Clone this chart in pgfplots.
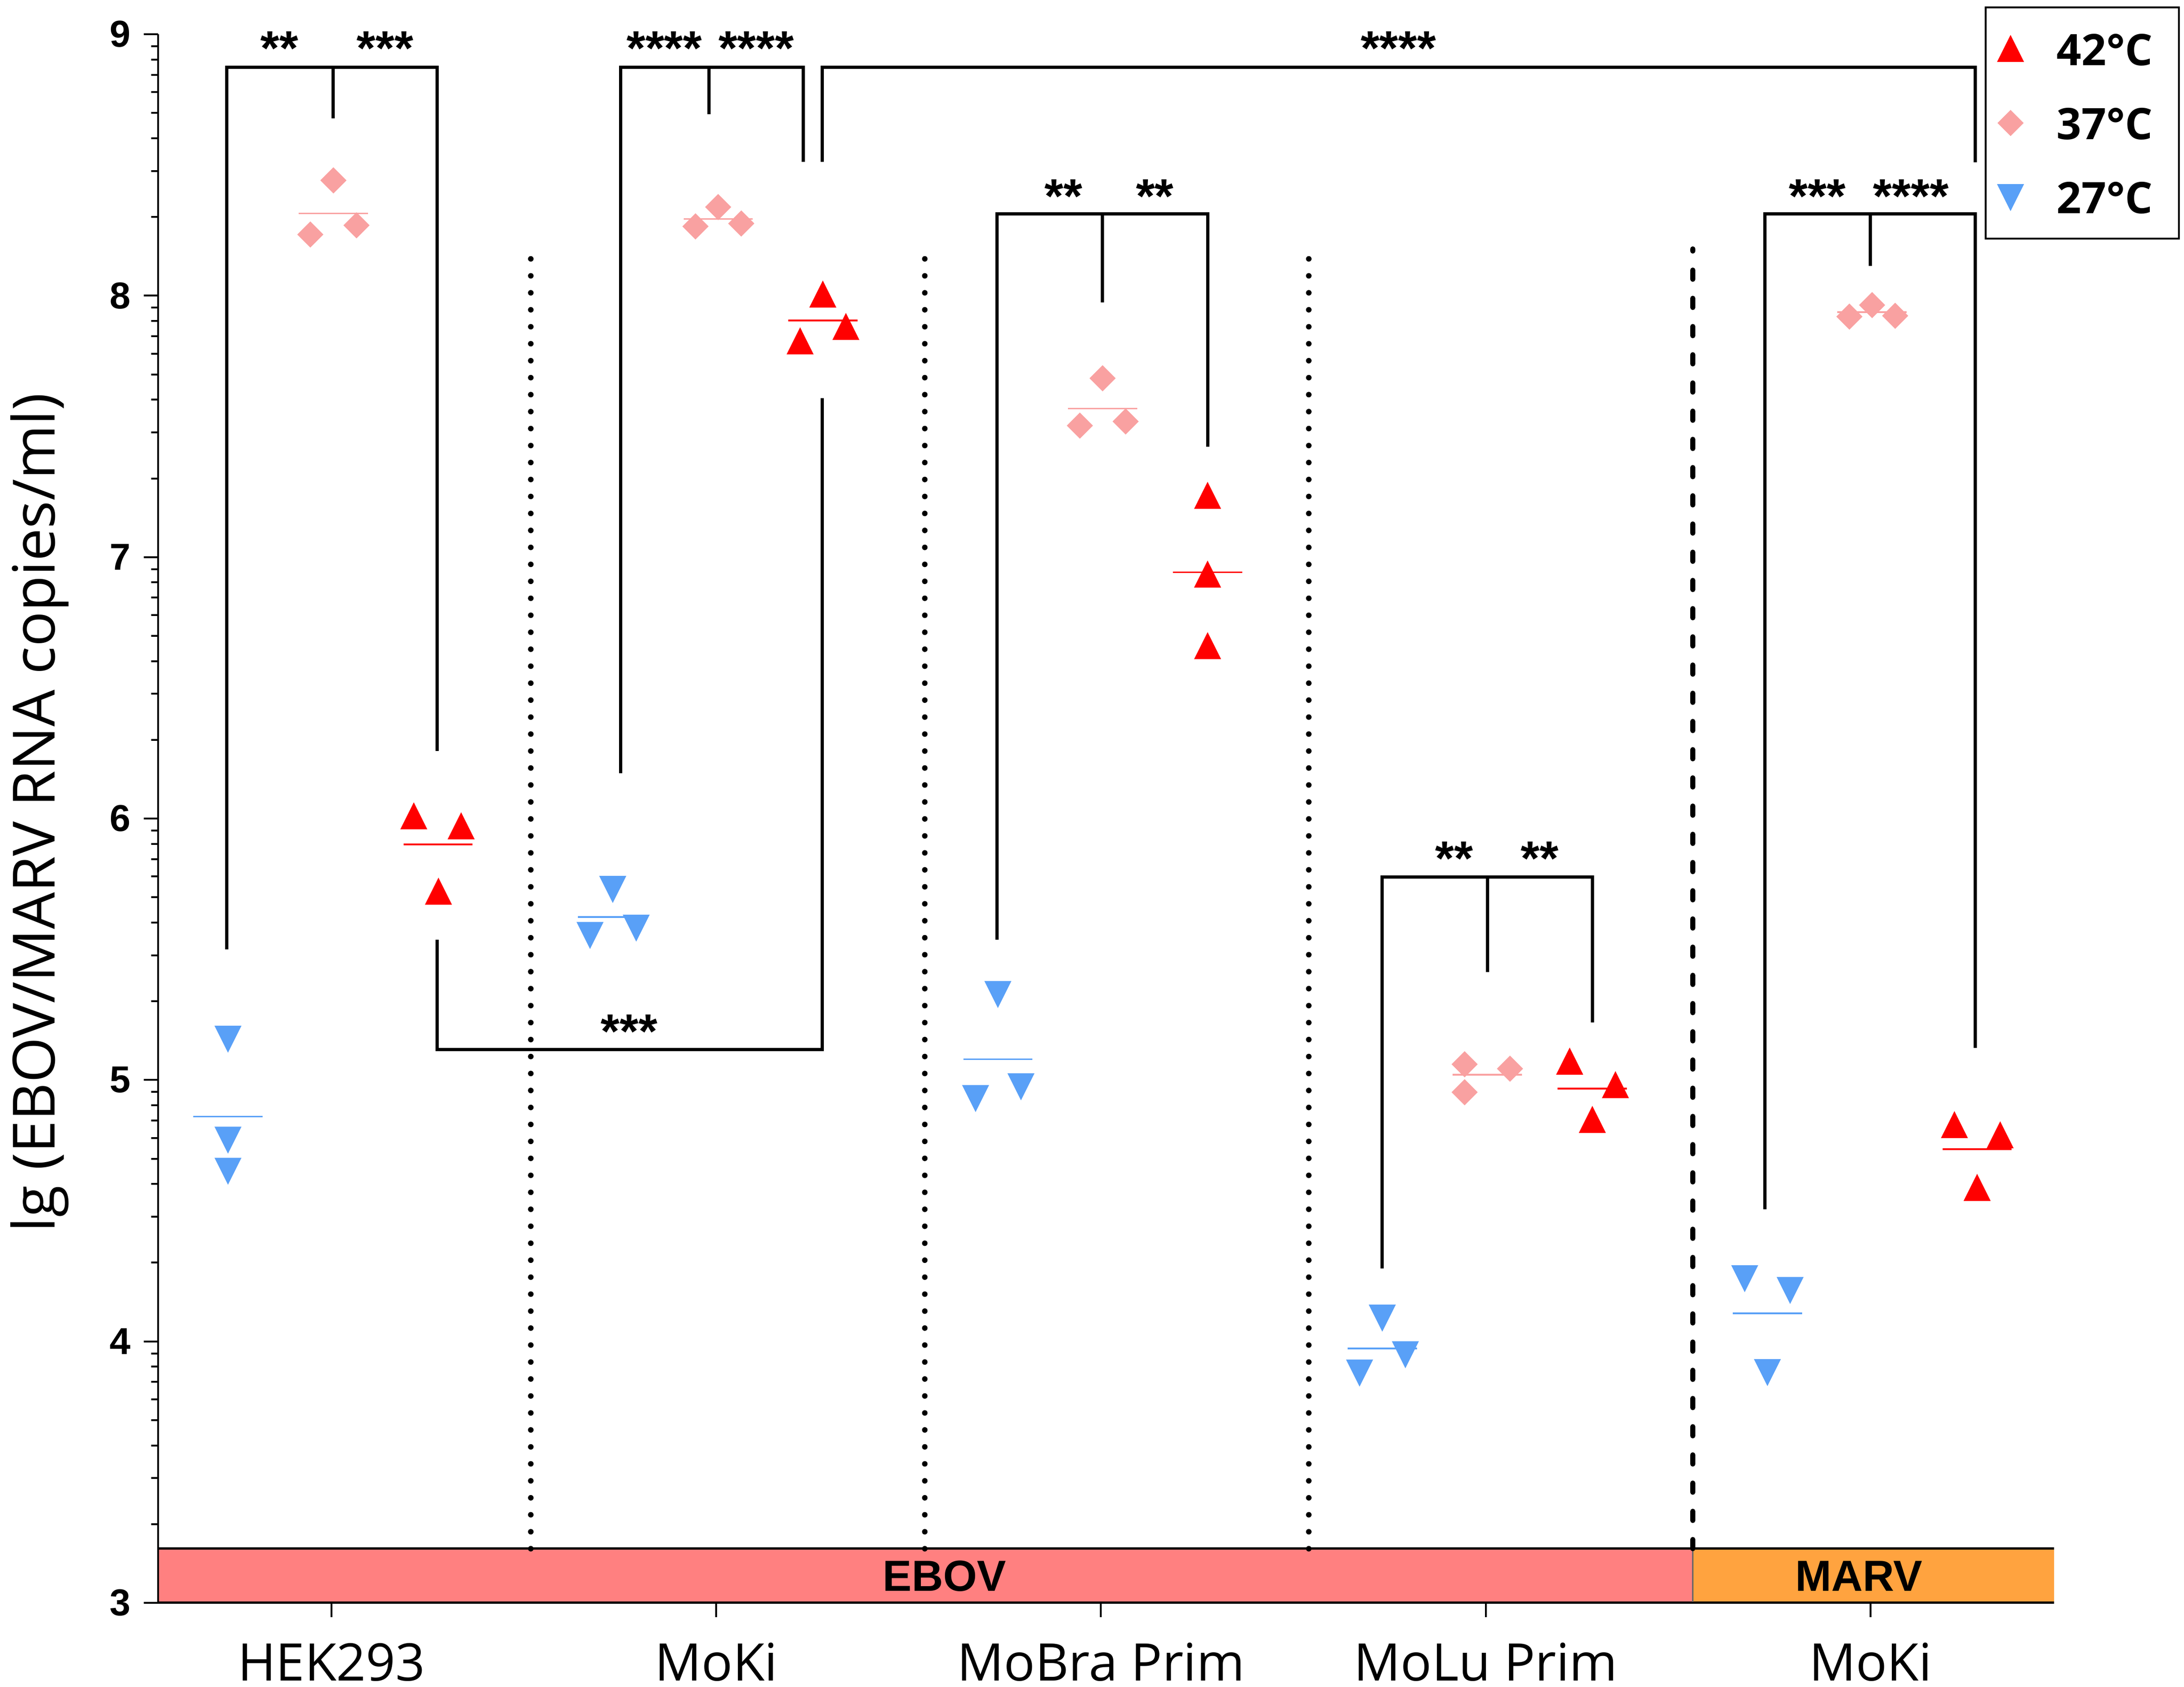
\documentclass[border=0pt]{standalone}
\usepackage{pgfplots}
\pgfplotsset{compat=1.18}
\usepackage{fontspec}
\setmainfont{Open Sans}
\newfontfamily\arialfam{Liberation Sans}
\definecolor{c42}{HTML}{FF0000}
\definecolor{c37}{HTML}{F9A1A1}
\definecolor{c27}{HTML}{59A0F7}
\definecolor{ebov}{HTML}{FF8080}
\definecolor{marv}{HTML}{FFA33F}
\newcommand\starfont{\arialfam\bfseries\fontsize{10.5}{12}\selectfont}
\newcommand\bandfont{\arialfam\bfseries\fontsize{9.4}{11}\selectfont}
\begin{document}
\begin{tikzpicture}
\begin{axis}[
  scale only axis, width=410.1pt, height=339.2pt,
  xmin=-0.4506, xmax=4.477, ymin=3, ymax=9,
  axis lines*=left,
  axis on top,
  axis line style={line width=0.4pt, black},
  clip=false,
  tick align=outside,
  major tick length=3.1pt, minor tick length=1.5pt,
  tick style={black, line width=0.4pt},
  xtick={0,1,2,3,4},
  xticklabels={HEK293, MoKi, MoBra Prim, MoLu Prim, MoKi},
  xticklabel style={font=\fontsize{11.2}{13}\selectfont, anchor=base, inner sep=0pt, yshift=-13.8pt},
  ytick={3,4,5,6,7,8,9},
  yticklabels={3,4,5,6,7,8,9},
  yticklabel style={font=\arialfam\bfseries\fontsize{8.1}{9}\selectfont, anchor=east, inner sep=0pt, xshift=-2.6pt},
  minor ytick={3.30103,3.47712,3.60206,3.69897,3.77815,3.84510,3.90309,3.95424,
    4.30103,4.47712,4.60206,4.69897,4.77815,4.84510,4.90309,4.95424,
    5.30103,5.47712,5.60206,5.69897,5.77815,5.84510,5.90309,5.95424,
    6.30103,6.47712,6.60206,6.69897,6.77815,6.84510,6.90309,6.95424,
    7.30103,7.47712,7.60206,7.69897,7.77815,7.84510,7.90309,7.95424,
    8.30103,8.47712,8.60206,8.69897,8.77815,8.84510,8.90309,8.95424},
  ylabel={lg (EBOV/MARV RNA copies/ml)},
  ylabel style={at={(axis description cs:-0.0546,0.5038)}, anchor=base, rotate=0, font=\fontsize{12.6}{14}\selectfont, inner sep=0pt},
  legend style={at={(0.9634,1.0177)}, anchor=north west, draw=black, line width=0.4pt, fill=white,
    font=\fontsize{9.4}{11}\bfseries\selectfont, inner xsep=2.8pt, inner ysep=1pt,
    row sep=0pt, column sep=7.4pt, cells={anchor=west},
    nodes={inner sep=0pt, text height=11.5pt, text depth=4.5pt}},
  legend image code/.code={\draw[#1] plot coordinates {(0pt,0pt)};},
]
% ---- band
\addplot[draw=none, fill=ebov, forget plot] coordinates {(-0.4506,3) (3.538,3) (3.538,3.207) (-0.4506,3.207)} -- cycle;
\addplot[draw=none, fill=marv, forget plot] coordinates {(3.538,3) (4.477,3) (4.477,3.207) (3.538,3.207)} -- cycle;
\addplot[black, line width=0.5pt, forget plot] coordinates {(-0.4506,3.207) (4.477,3.207)};
\addplot[black, line width=0.5pt, forget plot] coordinates {(-0.4506,3) (4.477,3)};
\addplot[black!60, line width=0.3pt, forget plot] coordinates {(3.538,3) (3.538,3.207)};
\node[font=\bandfont, inner sep=0pt] at (axis cs:1.593,3.102) {EBOV};
\node[font=\bandfont, inner sep=0pt] at (axis cs:3.970,3.102) {MARV};
% ---- separators
\addplot[black, line width=1.2pt, line cap=round, dash pattern=on 0pt off 3.67pt, forget plot] coordinates {(0.518,3.207) (0.518,8.179)};
\addplot[black, line width=1.2pt, line cap=round, dash pattern=on 0pt off 3.67pt, forget plot] coordinates {(1.542,3.207) (1.542,8.179)};
\addplot[black, line width=1.2pt, line cap=round, dash pattern=on 0pt off 3.67pt, forget plot] coordinates {(2.540,3.207) (2.540,8.179)};
\addplot[black, line width=1.1pt, line cap=round, dash pattern=on 2.0pt off 4.1pt, forget plot] coordinates {(3.538,3.207) (3.538,8.179)};
% ---- brackets
\pgfplotsset{brk/.style={black, line width=0.7pt, forget plot, line join=miter}}
\addplot[brk] coordinates {(-0.272,5.499) (-0.272,8.874) (0.274,8.874) (0.274,6.258)};
\addplot[brk] coordinates {(0.004,8.874) (0.004,8.678)};
\addplot[brk] coordinates {(0.752,6.173) (0.752,8.874) (1.226,8.874) (1.226,8.512)};
\addplot[brk] coordinates {(0.981,8.874) (0.981,8.694)};
\addplot[brk] coordinates {(1.275,8.512) (1.275,8.874) (4.272,8.874) (4.272,8.510)};
\addplot[brk] coordinates {(0.274,5.536) (0.274,5.117) (1.275,5.117) (1.275,7.608)};
\addplot[brk] coordinates {(1.730,5.537) (1.730,8.312) (2.277,8.312) (2.277,7.422)};
\addplot[brk] coordinates {(2.004,8.312) (2.004,7.975)};
\addplot[brk] coordinates {(2.731,4.279) (2.731,5.777) (3.277,5.777) (3.277,5.220)};
\addplot[brk] coordinates {(3.004,5.777) (3.004,5.412)};
\addplot[brk] coordinates {(3.726,4.505) (3.726,8.312) (4.272,8.312) (4.272,5.122)};
\addplot[brk] coordinates {(3.999,8.312) (3.999,8.113)};
% ---- stars
\node[font=\starfont, anchor=base, inner sep=0pt] at (axis cs:-0.135,8.882) {**};
\node[font=\starfont, anchor=base, inner sep=0pt] at (axis cs:0.139,8.882) {***};
\node[font=\starfont, anchor=base, inner sep=0pt] at (axis cs:0.865,8.882) {****};
\node[font=\starfont, anchor=base, inner sep=0pt] at (axis cs:1.104,8.882) {****};
\node[font=\starfont, anchor=base, inner sep=0pt] at (axis cs:2.773,8.882) {****};
\node[font=\starfont, anchor=base, inner sep=0pt] at (axis cs:1.903,8.316) {**};
\node[font=\starfont, anchor=base, inner sep=0pt] at (axis cs:2.140,8.316) {**};
\node[font=\starfont, anchor=base, inner sep=0pt] at (axis cs:3.862,8.316) {***};
\node[font=\starfont, anchor=base, inner sep=0pt] at (axis cs:4.105,8.316) {****};
\node[font=\starfont, anchor=base, inner sep=0pt] at (axis cs:2.918,5.783) {**};
\node[font=\starfont, anchor=base, inner sep=0pt] at (axis cs:3.140,5.783) {**};
\node[font=\starfont, anchor=base, inner sep=0pt] at (axis cs:0.774,5.121) {***};
% ---- mean lines
\pgfplotsset{m42/.style={c42, line width=0.35pt, forget plot}, m37/.style={c37, line width=0.35pt, forget plot}, m27/.style={c27, line width=0.35pt, forget plot}}
\addplot[m42] coordinates {(0.187,5.901) (0.367,5.901)};
\addplot[m42] coordinates {(1.187,7.905) (1.367,7.905)};
\addplot[m42] coordinates {(2.187,6.942) (2.367,6.942)};
\addplot[m42] coordinates {(3.187,4.967) (3.367,4.967)};
\addplot[m42] coordinates {(4.187,4.735) (4.367,4.735)};
\addplot[m37] coordinates {(-0.085,8.315) (0.095,8.315)};
\addplot[m37] coordinates {(0.915,8.293) (1.095,8.293)};
\addplot[m37] coordinates {(1.914,7.568) (2.094,7.568)};
\addplot[m37] coordinates {(2.914,5.020) (3.094,5.020)};
\addplot[m37] coordinates {(3.914,7.937) (4.094,7.937)};
\addplot[m27] coordinates {(-0.359,4.860) (-0.179,4.860)};
\addplot[m27] coordinates {(0.641,5.623) (0.821,5.623)};
\addplot[m27] coordinates {(1.642,5.079) (1.822,5.079)};
\addplot[m27] coordinates {(2.641,3.973) (2.821,3.973)};
\addplot[m27] coordinates {(3.642,4.107) (3.822,4.107)};
% ---- data
\addplot[only marks, mark=triangle*, mark size=3pt, color=c42, mark options={yshift=-0.866pt, yscale=1.155, draw=none, fill=c42}] coordinates {
 (0.214,6.008) (0.337,5.970) (0.278,5.720)
 (1.277,8.004) (1.218,7.825) (1.337,7.880)
 (2.277,7.234) (2.277,6.933) (2.277,6.659)
 (3.218,5.070) (3.337,4.980) (3.277,4.847)
 (4.218,4.827) (4.337,4.788) (4.277,4.587)};
\addlegendentry{\makebox[23.6pt][l]{42°C}}
\addplot[only marks, mark=square*, mark size=1.8pt, color=c37, mark options={rotate=45, draw=none, fill=c37}] coordinates {
 (0.005,8.441) (-0.055,8.234) (0.065,8.269)
 (1.005,8.339) (0.946,8.265) (1.065,8.276)
 (2.004,7.684) (1.945,7.503) (2.064,7.519)
 (2.945,5.060) (2.945,4.953) (3.063,5.043)
 (4.004,7.964) (3.945,7.920) (4.064,7.923)};
\addlegendentry{\makebox[23.6pt][l]{37°C}}
\addplot[only marks, mark=triangle*, mark size=3pt, color=c27, mark options={yshift=0.866pt, yscale=-1.155, draw=none, fill=c27}] coordinates {
 (-0.269,5.158) (-0.269,4.772) (-0.269,4.653)
 (0.731,5.731) (0.672,5.555) (0.792,5.583)
 (1.732,5.329) (1.674,4.931) (1.792,4.976)
 (2.731,4.091) (2.672,3.881) (2.791,3.951)
 (3.732,3.883) (3.673,4.242) (3.791,4.197)};
\addlegendentry{\makebox[23.6pt][l]{27°C}}
\coordinate (sw) at (axis cs:-0.4506,3);
\end{axis}
\pgfresetboundingbox
\path[use as bounding box] (sw) ++(-34.2pt,-18.2pt) rectangle ++(472.4pt,364.8pt);
\end{tikzpicture}
\end{document}
